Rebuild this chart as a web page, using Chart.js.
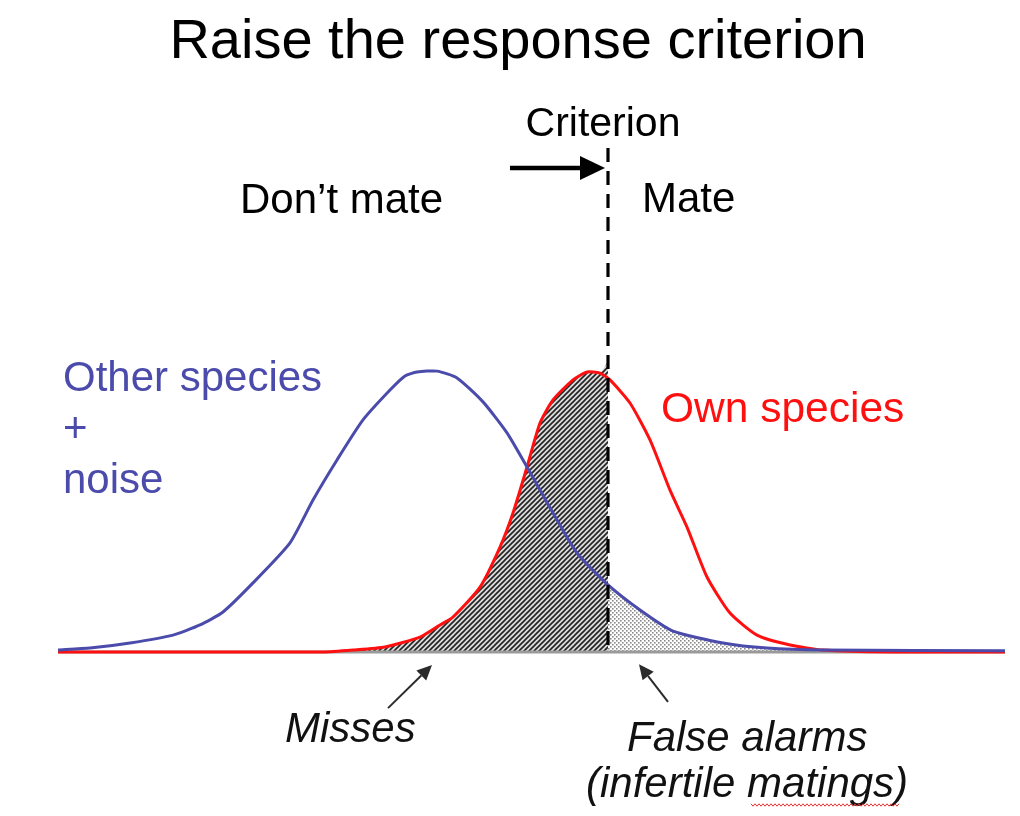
<!DOCTYPE html>
<html>
<head>
<meta charset="utf-8">
<title>Raise the response criterion</title>
<script src="https://cdn.jsdelivr.net/npm/chart.js@4/dist/chart.umd.min.js"></script>
<style>
  html, body { margin: 0; padding: 0; background: #ffffff; }
  #wrap { position: relative; width: 1020px; height: 816px; }
</style>
</head>
<body>
<div id="wrap"><canvas id="chart"></canvas></div>
<script>
// Signal strength (arbitrary units) and relative frequency of each signal source.
const otherX = [0, 3.2, 7.2, 11.5, 14.2, 16.5, 19.5, 23.2, 25.5, 27.9, 30.5, 33.2, 34.7, 35.9, 37.9, 39.9, 42.5, 44.9, 46.9, 49.5, 51.9, 55.0, 58.2, 61.5, 66.5, 70.9, 76.5, 94.7];
const otherY = [0.007, 0.014, 0.032, 0.060, 0.096, 0.142, 0.245, 0.387, 0.539, 0.681, 0.823, 0.929, 0.979, 0.993, 0.996, 0.972, 0.887, 0.777, 0.656, 0.493, 0.351, 0.238, 0.149, 0.074, 0.032, 0.014, 0.007, 0.004];

const ownX = [0, 26.5, 29.5, 32.7, 36.2, 38.2, 39.5, 42.2, 44.2, 45.5, 46.9, 48.2, 49.5, 51.5, 52.9, 54.2, 55.2, 57.2, 59.2, 61.2, 62.9, 64.9, 67.2, 69.9, 73.2, 76.5, 83.2, 94.7];
const ownY = [0, 0, 0.007, 0.018, 0.053, 0.096, 0.124, 0.230, 0.372, 0.493, 0.656, 0.812, 0.894, 0.965, 0.993, 0.989, 0.965, 0.883, 0.752, 0.574, 0.443, 0.266, 0.138, 0.060, 0.025, 0.007, 0, 0];

// Response criterion on the signal axis, and the top edge of the shaded "misses" block there.
const criterion = 55.0;
const missesEdge = 1.03;

const axisRange = [0, 94.7];

const toPoints = (xs, ys) => xs.map((x, i) => ({ x: x, y: ys[i] }));

const otherPts = toPoints(otherX, otherY);
const ownPts = toPoints(ownX, ownY);
const missesPts = ownPts.filter(p => p.x >= 26.5 && p.x <= criterion).concat([{ x: criterion, y: missesEdge }]);
const falseAlarmPts = otherPts.filter(p => p.x >= criterion);
const baselinePts = [{ x: axisRange[0], y: 0 }, { x: axisRange[1], y: 0 }];

// Fill patterns: dense upward diagonals and a fine dot grid.
function hatchPattern() {
  const s = 5;
  const c = document.createElement('canvas');
  c.width = s; c.height = s;
  const g = c.getContext('2d');
  g.fillStyle = '#dcdcdc';
  g.fillRect(0, 0, s, s);
  g.strokeStyle = '#222222';
  g.lineWidth = 1.6;
  g.beginPath();
  g.moveTo(-1, s + 1); g.lineTo(s + 1, -1);
  g.moveTo(-1, 1); g.lineTo(1, -1);
  g.moveTo(s - 1, s + 1); g.lineTo(s + 1, s - 1);
  g.stroke();
  return g.createPattern(c, 'repeat');
}
function dotPattern() {
  const c = document.createElement('canvas');
  c.width = 4; c.height = 4;
  const g = c.getContext('2d');
  g.fillStyle = '#ffffff';
  g.fillRect(0, 0, 4, 4);
  g.fillStyle = '#8a8a8a';
  g.fillRect(0, 0, 1.6, 1.6);
  g.fillRect(2, 2, 1.6, 1.6);
  return g.createPattern(c, 'repeat');
}

const BLUE = '#4b4bab';
const RED = '#ff1010';
const FONT = '"Liberation Sans", Arial, Helvetica, sans-serif';

function arrow(ctx, x1, y1, x2, y2, width, headLen, headHalf, color) {
  const a = Math.atan2(y2 - y1, x2 - x1);
  const bx = x2 - headLen * Math.cos(a), by = y2 - headLen * Math.sin(a);
  ctx.save();
  ctx.strokeStyle = color; ctx.fillStyle = color;
  ctx.lineWidth = width; ctx.lineCap = 'butt';
  ctx.beginPath(); ctx.moveTo(x1, y1); ctx.lineTo(bx, by); ctx.stroke();
  ctx.beginPath();
  ctx.moveTo(x2, y2);
  ctx.lineTo(bx + headHalf * Math.sin(a), by - headHalf * Math.cos(a));
  ctx.lineTo(bx - headHalf * Math.sin(a), by + headHalf * Math.cos(a));
  ctx.closePath(); ctx.fill();
  ctx.restore();
}

const annotations = {
  id: 'annotations',
  afterDatasetsDraw(chart) {
    const ctx = chart.ctx;
    const xs = chart.scales.x, ys = chart.scales.y;
    const px = v => xs.getPixelForValue(v);
    const py = v => ys.getPixelForValue(v);
    const cx = px(criterion);

    // criterion line
    ctx.save();
    ctx.strokeStyle = '#000';
    ctx.lineWidth = 3.2;
    ctx.setLineDash([14, 9]);
    ctx.beginPath();
    ctx.moveTo(cx, py(1.787));
    ctx.lineTo(cx, py(0));
    ctx.stroke();
    ctx.restore();

    // "raise" arrow towards the criterion
    arrow(ctx, px(45.2), py(1.716), cx - 3, py(1.716), 4.5, 25, 12, '#000');

    // pointers to the shaded regions
    arrow(ctx, px(33.0), py(-0.199), px(37.4), py(-0.046), 2, 15, 7, '#2b2b2b');
    arrow(ctx, px(61.0), py(-0.177), px(58.1), py(-0.043), 2, 15, 7, '#2b2b2b');

    ctx.save();
    ctx.textBaseline = 'alphabetic';
    ctx.fillStyle = '#000';
    ctx.textAlign = 'center';
    ctx.font = '56px ' + FONT;
    ctx.fillText('Raise the response criterion', 518, 58);
    ctx.font = '41px ' + FONT;
    ctx.fillText('Criterion', 603, 136);

    ctx.textAlign = 'left';
    ctx.font = '42px ' + FONT;
    ctx.fillText('Don\u2019t mate', 240, 213);
    ctx.fillText('Mate', 642, 212);

    ctx.fillStyle = BLUE;
    ctx.fillText('Other species', 63, 391);
    ctx.fillText('+', 63, 442);
    ctx.fillText('noise', 63, 493);

    ctx.fillStyle = RED;
    ctx.font = '42.5px ' + FONT;
    ctx.fillText('Own species', 661, 422);

    ctx.fillStyle = '#111';
    ctx.font = 'italic 42px ' + FONT;
    ctx.fillText('Misses', 285, 742);
    ctx.fillText('False alarms', 627, 751);
    ctx.fillText('(infertile matings)', 586, 797);

    // spell-check squiggle under "matings"
    ctx.strokeStyle = '#e03030';
    ctx.lineWidth = 1;
    ctx.beginPath();
    for (let x = 751, k = 0; x <= 899; x += 2, k++) {
      const y = 805 + (k % 2 === 0 ? -1.2 : 1.2);
      if (k === 0) ctx.moveTo(x, y); else ctx.lineTo(x, y);
    }
    ctx.stroke();
    ctx.restore();
  }
};

const common = { pointRadius: 0, pointHoverRadius: 0, clip: false, tension: 0.2 };

new Chart(document.getElementById('chart'), {
  type: 'line',
  data: {
    datasets: [
      Object.assign({ label: 'Misses', data: missesPts, fill: 'origin', backgroundColor: hatchPattern(), borderWidth: 0, borderColor: 'rgba(0,0,0,0)', order: 6 }, common, { tension: 0.15 }),
      Object.assign({ label: 'False alarms', data: falseAlarmPts, fill: 'origin', backgroundColor: dotPattern(), borderWidth: 0, borderColor: 'rgba(0,0,0,0)', order: 5 }, common),
      Object.assign({ label: 'Baseline', data: baselinePts, fill: false, borderColor: '#9a9a9a', borderWidth: 3, order: 4 }, common, { tension: 0 }),
      Object.assign({ label: 'Own species', data: ownPts, fill: false, borderColor: RED, borderWidth: 3, order: 3 }, common),
      Object.assign({ label: 'Other species + noise', data: otherPts, fill: false, borderColor: BLUE, borderWidth: 3, order: 2 }, common)
    ]
  },
  options: {
    responsive: true,
    maintainAspectRatio: false,
    animation: false,
    events: [],
    layout: { padding: { left: 58, right: 12, top: 88, bottom: 164 } },
    scales: {
      x: { type: 'linear', min: 0, max: 95, display: false },
      y: { type: 'linear', min: 0, max: 2, display: false }
    },
    plugins: {
      legend: { display: false },
      tooltip: { enabled: false },
      title: { display: false }
    }
  },
  plugins: [annotations]
});
</script>
</body>
</html>
